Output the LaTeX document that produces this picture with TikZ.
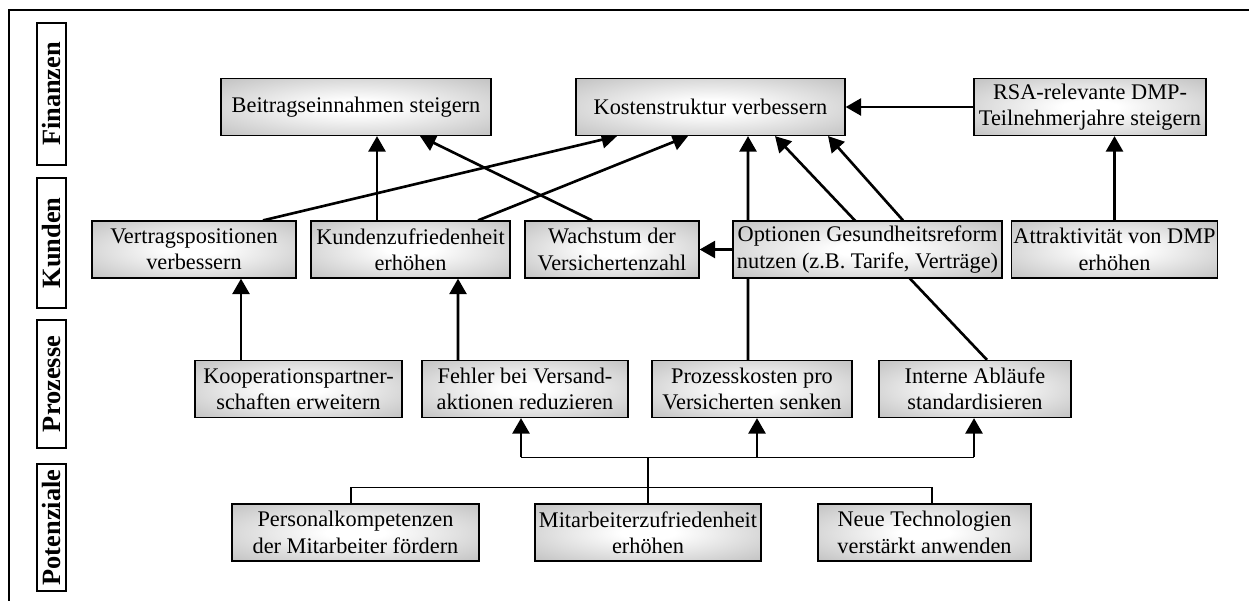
\documentclass[tikz,border=0pt]{standalone}
\usepackage{fontspec}
\setmainfont{Liberation Serif}
\usepackage{tikz}
\usetikzlibrary{calc, arrows.meta, backgrounds}

\pgfdeclareradialshading{kasten}{\pgfpoint{0bp}{0bp}}{color(0bp)=(white); color(6bp)=(white); color(40bp)=(gray!55); color(50bp)=(gray!55)}

\begin{document}
\begin{tikzpicture}[x=0.2mm, y=-0.2mm,
  ziel/.style={draw, line width=0.7pt, shading=kasten, align=center, minimum height=11.4mm, inner xsep=1pt, inner ysep=1pt, font=\fontsize{12.7}{15}\selectfont},
  ebene/.style={draw, line width=0.8pt, rotate=90, minimum height=5.8mm, inner sep=0pt, font=\fontsize{15}{18}\selectfont\bfseries},
  pfeil/.style={line width=1.5pt, -{Triangle[length=3.1mm, width=3.4mm]}},
  linie/.style={line width=0.7pt}]
\useasboundingbox (0,0) rectangle (1249,601);

% Desenhando a moldura (so em cima e a esquerda):
\draw[line width=0.8pt] (1249,10) -- (9,10) -- (9,601);

% Desenhando as quatro perspectivas:
\node[ebene, minimum width=28.4mm] (finanzen) at (51.5,94) {Finanzen};
\node[ebene, minimum width=26mm] (kunden) at (51.5,243) {Kunden};
\node[ebene, minimum width=25.6mm] (prozesse) at (51.5,384) {Prozesse};
\node[ebene, minimum width=25.4mm] (potenziale) at (51.5,527.5) {Potenziale};

% Desenhando os objetivos de Finanzen:
\node[ziel, minimum width=54mm] (beitrag) at (356,107) {Beitragseinnahmen steigern};
\node[ziel, minimum width=53.8mm] (kosten) at (710.5,107) {Kostenstruktur verbessern};
\node[ziel, minimum width=46.4mm] (rsa) at (1090,107) {RSA-relevante DMP-\\Teilnehmerjahre steigern};

% Desenhando os objetivos de Kunden:
\node[ziel, minimum width=40.8mm] (vertrag) at (194,249.5) {Vertragspositionen\\verbessern};
\node[ziel, minimum width=39.8mm] (kundenz) at (410.5,249.5) {Kundenzufriedenheit\\erhöhen};
\node[ziel, minimum width=34.8mm] (wachstum) at (612,249.5) {Wachstum der\\Versichertenzahl};
\node[ziel, minimum width=53.8mm] (optionen) at (867.5,249.5) {Optionen Gesundheitsreform\\nutzen (z.B. Tarife, Verträge)};
\node[ziel, minimum width=41mm] (attrakt) at (1114.5,249.5) {Attraktivität von DMP\\erhöhen};

% Desenhando os objetivos de Prozesse:
\node[ziel, minimum width=41.4mm] (koop) at (298.5,389) {Kooperationspartner-\\schaften erweitern};
\node[ziel, minimum width=41.2mm] (fehler) at (525,389) {Fehler bei Versand-\\aktionen reduzieren};
\node[ziel, minimum width=40mm] (prozess) at (752,389) {Prozesskosten pro\\Versicherten senken};
\node[ziel, minimum width=38.4mm] (intern) at (975,389) {Interne Abläufe\\standardisieren};

% Desenhando os objetivos de Potenziale:
\node[ziel, minimum width=49.4mm] (personal) at (355.5,532.5) {Personalkompetenzen\\der Mitarbeiter fördern};
\node[ziel, minimum width=45.2mm] (mitarb) at (648,532.5) {Mitarbeiterzufriedenheit\\erhöhen};
\node[ziel, minimum width=42.6mm] (neue) at (924.5,532.5) {Neue Technologien\\verstärkt anwenden};

\begin{scope}[on background layer]
% Desenhando as flechas para Finanzen:
\draw[pfeil] (rsa.west) -- (kosten.east);
\draw[pfeil] (attrakt.north) -- (attrakt.north |- rsa.south);
\draw[pfeil] ($(vertrag.north)+(69,0)$) -- ($(kosten.south)+(-93.5,0)$);
\draw[pfeil] ($(kundenz.north)+(-33.5,0)$) -- ($(beitrag.south)+(21,0)$);
\draw[pfeil] ($(kundenz.north)+(67.5,0)$) -- ($(kosten.south)+(-22.5,0)$);
\draw[pfeil] ($(wachstum.north)+(-20,0)$) -- ($(beitrag.south)+(64,0)$);
\draw[pfeil] ($(optionen.north)+(35.5,0)$) -- ($(kosten.south)+(117.5,0)$);
\draw[pfeil] (optionen.west) -- (wachstum.east);

% Desenhando as flechas de Prozesse (passam por tras das caixas):
\draw[pfeil] ($(koop.north)+(-57.5,0)$) -- ($(vertrag.south)+(47,0)$);
\draw[pfeil] ($(fehler.north)+(-67,0)$) -- ($(kundenz.south)+(47.5,0)$);
\draw[pfeil] ($(prozess.north)+(-4,0)$) -- ($(kosten.south)+(37.5,0)$);
\draw[pfeil] ($(intern.north)+(12,0)$) -- ($(kosten.south)+(64.5,0)$);

% Desenhando as ligacoes de Potenziale:
\coordinate (oben) at ($(mitarb.north)+(0,-46)$);
\coordinate (unten) at ($(mitarb.north)+(0,-16)$);
\coordinate (zf) at ($(fehler.south)+(-4,0)$);
\coordinate (zp) at ($(prozess.south)+(5,0)$);
\coordinate (zi) at ($(intern.south)+(-1,0)$);
\draw[linie] (mitarb.north) -- (oben);
\draw[linie] (zf |- oben) -- (zi |- oben);
\foreach \z in {zf, zp, zi}
  \draw[pfeil] (\z |- oben) -- (\z);
\draw[linie] ($(personal.north)+(-4.5,0)$) |- (unten) -| ($(neue.north)+(7.5,0)$);
\end{scope}
\end{tikzpicture}
\end{document}
